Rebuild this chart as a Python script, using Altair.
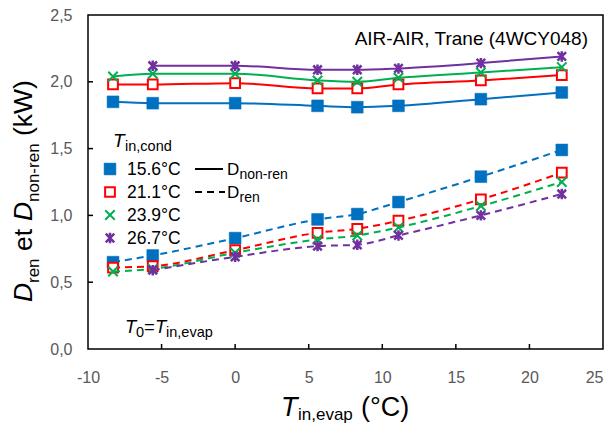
import altair as alt
import pandas as pd

# ---------------- data ----------------
t_evap = [-8.3, -5.6, 0.0, 5.6, 8.3, 11.1, 16.7, 22.2]
series = ["15.6°C", "21.1°C", "23.9°C", "26.7°C"]
d_nonren_156 = [1.85, 1.84, 1.84, 1.82, 1.81, 1.82, 1.87, 1.92]
d_nonren_211 = [1.98, 1.98, 1.99, 1.95, 1.95, 1.98, 2.01, 2.05]
d_nonren_239 = [2.04, 2.06, 2.06, 2.01, 2.00, 2.03, 2.07, 2.11]
d_nonren_267 = [None, 2.12, 2.12, 2.09, 2.09, 2.10, 2.14, 2.19]
d_ren_156 = [0.65, 0.70, 0.83, 0.97, 1.01, 1.10, 1.29, 1.49]
d_ren_211 = [0.61, 0.62, 0.74, 0.87, 0.90, 0.96, 1.12, 1.32]
d_ren_239 = [0.58, 0.60, 0.72, 0.82, 0.85, 0.91, 1.07, 1.25]
d_ren_267 = [None, 0.59, 0.69, 0.77, 0.78, 0.85, 1.00, 1.16]
x_ticks = [-10, -5, 0, 5, 10, 15, 20, 25]
y_ticks = [0.0, 0.5, 1.0, 1.5, 2.0, 2.5]

nonren = [d_nonren_156, d_nonren_211, d_nonren_239, d_nonren_267]
ren = [d_ren_156, d_ren_211, d_ren_239, d_ren_267]

# ---------------- styles ----------------
FONT = "Liberation Sans"
W, H = 515, 334
OX, OY = 88, 15
colors = ["#0070C0", "#FF0000", "#00B050", "#7030A0"]
XPATH = "M-1,-1L1,1M-1,1L1,-1"
ASTPATH = "M-0.9,-0.9L0.9,0.9M-0.9,0.9L0.9,-0.9M0,-1.1L0,1.1"
mstyles = [
    dict(shape="square", filled=True, fill=colors[0], stroke=colors[0], strokeWidth=0.5, size=140, opacity=1),
    dict(shape="square", filled=True, fill="white", stroke=colors[1], strokeWidth=2, size=95, opacity=1),
    dict(shape=XPATH, filled=False, stroke=colors[2], strokeWidth=2, size=90, opacity=1),
    dict(shape=ASTPATH, filled=False, stroke=colors[3], strokeWidth=2.5, size=90, opacity=1),
]

xscale = alt.Scale(domain=[-10, 25], nice=False, zero=False)
yscale = alt.Scale(domain=[0, 2.5], nice=False, zero=True)
common_axis = dict(title=None, grid=False, domain=False, ticks=False, tickSize=0,
                   labelFont=FONT, labelFontSize=16, labelColor="#595959", labelOverlap=False)
xaxis = alt.Axis(values=x_ticks, labelPadding=20, labelExpr="'' + datum.value", labelFlush=False,
                 labelAlign={"condition": {"test": "datum.value == 25", "value": "right"}, "value": "center"},
                 **common_axis)
yaxis = alt.Axis(values=y_ticks, labelPadding=16,
                 labelExpr="replace(format(datum.value, '.1f'), '.', ',')", **common_axis)
X = alt.X("x:Q", scale=xscale, axis=xaxis)
Y = alt.Y("y:Q", scale=yscale, axis=yaxis)

one = pd.DataFrame({"k": [0]})
layers = []

# inner tick marks
layers.append(alt.Chart(pd.DataFrame({"x": x_ticks[1:-1]})).mark_rule(color="black", strokeWidth=1.5)
              .encode(x=X, y=alt.value(H), y2=alt.value(H - 5)))
layers.append(alt.Chart(pd.DataFrame({"y": y_ticks[1:-1]})).mark_rule(color="black", strokeWidth=1.5)
              .encode(y=Y, x=alt.value(0), x2=alt.value(5)))

for i in range(4):
    for vals, dash in ((nonren[i], None), (ren[i], [7, 5])):
        df = pd.DataFrame({"x": t_evap, "y": vals}).dropna()
        lk = dict(color=colors[i], strokeWidth=2, interpolate="monotone")
        if dash:
            lk["strokeDash"] = dash
        layers.append(alt.Chart(df).mark_line(**lk).encode(x=X, y=Y))
        layers.append(alt.Chart(df).mark_point(**mstyles[i]).encode(x=X, y=Y))


def txt(s, px, py, size, italic=False, angle=0, align="left"):
    p = dict(text=s, align=align, baseline="alphabetic", font=FONT, fontSize=size, color="black")
    if italic:
        p["fontStyle"] = "italic"
    if angle:
        p["angle"] = angle
    return alt.Chart(one).mark_text(**p).encode(x=alt.value(px - OX), y=alt.value(py - OY))


# top-right annotation
layers.append(txt("AIR-AIR, Trane (4WCY048)", 588, 45, 19, align="right"))

# legend
layers.append(txt("T", 113, 147, 19, italic=True))
layers.append(txt("in,cond", 125, 151, 14.5))
rows = [169, 192, 215, 238]
for i in range(4):
    layers.append(alt.Chart(one).mark_point(**mstyles[i]).encode(x=alt.value(110 - OX), y=alt.value(rows[i] - OY)))
    layers.append(txt(series[i], 127, rows[i] + 6, 17.5))
layers.append(alt.Chart(one).mark_rule(color="black", strokeWidth=2)
              .encode(x=alt.value(195 - OX), x2=alt.value(223 - OX), y=alt.value(169 - OY)))
layers.append(alt.Chart(one).mark_rule(color="black", strokeWidth=2, strokeDash=[7, 5])
              .encode(x=alt.value(195 - OX), x2=alt.value(225 - OX), y=alt.value(192 - OY)))
layers.append(txt("D", 227, 175, 17))
layers.append(txt("non-ren", 239.5, 179, 14))
layers.append(txt("D", 227, 198, 17))
layers.append(txt("ren", 239.5, 202, 14))

# T0 annotation
layers.append(txt("T", 125, 333, 18.5, italic=True))
layers.append(txt("0", 136, 337, 14.5))
layers.append(txt("=", 144, 333, 18.5))
layers.append(txt("T", 155, 333, 18.5, italic=True))
layers.append(txt("in,evap", 166, 337, 14.5))

# x title
layers.append(txt("T", 281, 416, 27, italic=True))
layers.append(txt("in,evap", 298, 420, 17))
layers.append(txt("(°C)", 361, 416, 27))

# y title (rotated)
layers.append(txt("D", 31.5, 302, 26.5, italic=True, angle=270))
layers.append(txt("ren", 38.5, 283, 17, angle=270))
layers.append(txt("et", 31.5, 251, 26.5, angle=270))
layers.append(txt("D", 31.5, 221, 26.5, italic=True, angle=270))
layers.append(txt("non-ren", 38.5, 202, 17, angle=270))
layers.append(txt("(kW)", 31.5, 136, 26.5, angle=270))

chart = alt.layer(*layers).properties(
    width=W, height=H,
    padding={"left": OX - 8, "top": OY - 8, "right": 3, "bottom": 76},
    autosize=alt.AutoSizeParams(type="none"),
).configure_view(stroke="black", strokeWidth=1.5)

chart.save("out.html", embed_options={"renderer": "svg", "actions": False})
